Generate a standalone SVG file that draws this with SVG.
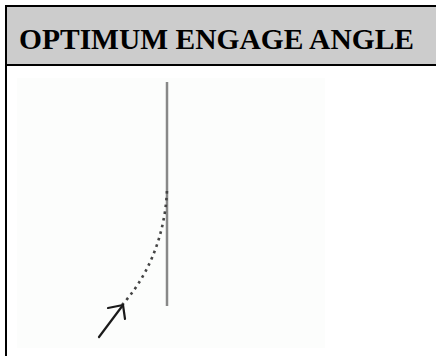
<svg xmlns="http://www.w3.org/2000/svg" width="436" height="356" viewBox="0 0 436 356">
  <style>
    .title { font-family: "Liberation Serif", "Times New Roman", serif; font-weight: bold; font-size: 29.5px; fill: #000; }
    .border { fill: #000; }
    .wall { stroke: #888; stroke-width: 2.5; fill: none; }
    .path { stroke: #444; stroke-width: 2.6; fill: none; stroke-dasharray: 2.6 4.2; }
    .arrow { stroke: #1a1a1a; stroke-width: 2.2; fill: none; stroke-linecap: round; stroke-linejoin: round; }
  </style>
  <rect x="0" y="0" width="436" height="356" fill="#fff"/>
  <g id="header">
    <rect x="7" y="7" width="429" height="58" fill="#cccccc"/>
    <text class="title" x="19" y="49">OPTIMUM ENGAGE ANGLE</text>
  </g>
  <g id="frame">
    <rect class="border" x="5" y="5" width="431" height="2"/>
    <rect class="border" x="5" y="5" width="2" height="351"/>
    <rect class="border" x="5" y="64" width="431" height="2"/>
  </g>
  <g id="picture">
    <rect x="17" y="78" width="308" height="270" fill="#fcfdfc"/>
    <line class="wall" x1="167" y1="82" x2="167" y2="306"/>
    <path class="path" d="M122,305 C145,280 165,240 167,190"/>
    <g id="arrow">
      <line class="arrow" x1="99" y1="337" x2="123" y2="305"/>
      <polyline class="arrow" points="108,308 123,305 125,319"/>
    </g>
  </g>
</svg>
